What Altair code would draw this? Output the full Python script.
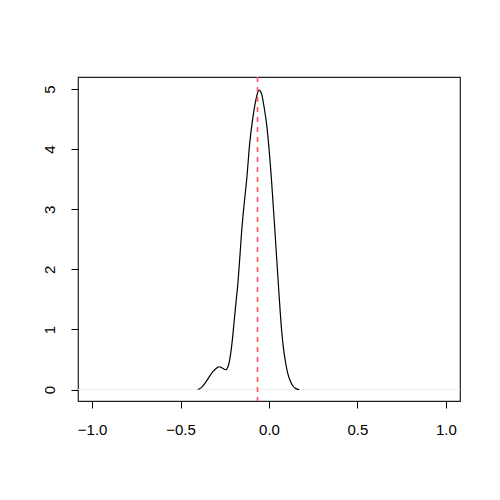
import altair as alt
import pandas as pd

# density curve
xs = [-0.402, -0.38, -0.354, -0.317, -0.295, -0.283, -0.265, -0.245, -0.232, -0.222,
      -0.207, -0.195, -0.185, -0.178, -0.165, -0.155, -0.140, -0.126, -0.109, -0.090,
      -0.072, -0.063, -0.056, -0.048, -0.040, -0.030, -0.011, 0.014, 0.033, 0.055,
      0.071, 0.083, 0.095, 0.106, 0.118, 0.135, 0.150, 0.171]
ys = [0.00, 0.04, 0.14, 0.30, 0.36, 0.38, 0.36, 0.33, 0.38, 0.50,
      0.83, 1.20, 1.50, 1.70, 2.20, 2.62, 3.10, 3.50, 4.10, 4.55,
      4.85, 4.95, 4.98, 4.96, 4.90, 4.74, 4.35, 3.49, 2.66, 1.66,
      1.00, 0.66, 0.43, 0.27, 0.16, 0.06, 0.02, 0.00]
vline_x = [-0.065]
hline_y = [0]
x_ticks = [-1.0, -0.5, 0.0, 0.5, 1.0]
y_ticks = [0, 1, 2, 3, 4, 5]

df = pd.DataFrame({"x": xs, "y": ys})
FONT = "Liberation Sans"

xscale = alt.Scale(domain=[-1.08, 1.08], nice=False, zero=False)
yscale = alt.Scale(domain=[-0.19, 5.2], nice=False, zero=False)

xaxis = alt.Axis(values=x_ticks, format=".1f", title=None, grid=False, domain=False,
                 tickColor="black", tickSize=7, labelPadding=14, labelFontSize=15,
                 labelFont=FONT, labelColor="black")
yaxis = alt.Axis(values=y_ticks, format="d", title=None, grid=False, domain=False,
                 tickColor="black", tickSize=7, labelPadding=14, labelFontSize=15,
                 labelFont=FONT, labelColor="black", labelAngle=270,
                 labelAlign="center", labelBaseline="bottom")

hline = alt.Chart(pd.DataFrame({"y": hline_y})).mark_rule(
    color="#eeeeee", strokeWidth=1).encode(y=alt.Y("y:Q", scale=yscale, axis=yaxis))

line = alt.Chart(df).mark_line(color="black", strokeWidth=1.2, interpolate="monotone").encode(
    x=alt.X("x:Q", scale=xscale, axis=xaxis),
    y=alt.Y("y:Q", scale=yscale, axis=yaxis),
)

vline = alt.Chart(pd.DataFrame({"x": vline_x})).mark_rule(
    color="#ff5a6a", strokeWidth=1.7, strokeDash=[5, 5]).encode(x=alt.X("x:Q", scale=xscale))

chart = alt.layer(hline, line, vline).properties(
    width=382, height=324,
    background="white",
    autosize=alt.AutoSizeParams(type="none"),
    padding={"left": 70, "top": 69, "right": 10, "bottom": 80},
).configure_view(stroke="#222222", strokeWidth=1.2)

chart.save("out.html", embed_options={"renderer": "svg", "actions": False})
